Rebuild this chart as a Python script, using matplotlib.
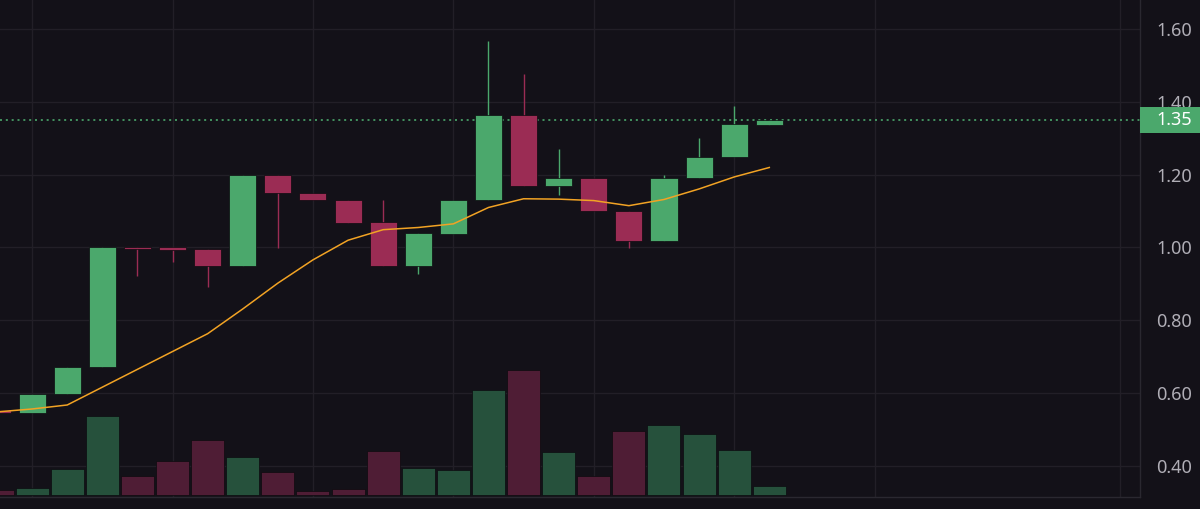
import matplotlib.pyplot as plt
from matplotlib.patches import Rectangle
from matplotlib.transforms import blended_transform_factory

plt.rcParams['font.family'] = ['Noto Sans', 'DejaVu Sans']

# candles, index 0 is the cut-off one at the left edge
opens  = [0.552, 0.544, 0.597, 0.672, 1.001, 1.000, 0.995, 0.948, 1.200, 1.151, 1.130, 1.070,
          0.948, 1.038, 1.130, 1.365, 1.169, 1.190, 1.100, 1.017, 1.190, 1.248, 1.338]
highs  = [0.552, 0.598, 0.672, 1.000, 1.001, 1.000, 0.995, 1.200, 1.200, 1.151, 1.130, 1.131,
          1.039, 1.131, 1.568, 1.478, 1.270, 1.190, 1.100, 1.200, 1.300, 1.390, 1.350]
lows   = [0.544, 0.544, 0.597, 0.672, 0.921, 0.960, 0.891, 0.948, 0.998, 1.130, 1.068, 0.948,
          0.928, 1.038, 1.130, 1.169, 1.143, 1.099, 0.999, 1.017, 1.190, 1.248, 1.338]
closes = [0.544, 0.598, 0.672, 1.000, 0.997, 0.994, 0.948, 1.200, 1.150, 1.130, 1.068, 0.948,
          1.039, 1.131, 1.365, 1.169, 1.190, 1.099, 1.018, 1.190, 1.248, 1.339, 1.350]
volume = [5, 7, 26, 79, 19, 34, 55, 38, 23, 4, 6, 44, 27, 25, 105, 125, 43, 19, 64, 70, 61, 45, 9]
ma     = [0.548, 0.556, 0.567, 0.616, 0.665, 0.714, 0.763, 0.831, 0.902, 0.966, 1.020, 1.049,
          1.055, 1.065, 1.110, 1.134, 1.133, 1.129, 1.115, 1.132, 1.161, 1.194, 1.220]
last_price = 1.35
price_ticks = [0.40, 0.60, 0.80, 1.00, 1.20, 1.40, 1.60]
time_grid = [1, 5, 9, 13, 17, 21, 25, 32]

bg = '#131118'
grid_c = '#221f27'
up_c, down_c = '#4ba86c', '#9b2c54'
vol_up, vol_down = '#26513c', '#4f1d35'
ma_c = '#f2a324'

fig = plt.figure(figsize=(12, 5.09), dpi=100, facecolor=bg)
ax = fig.add_axes([0, 12 / 509, 1140 / 1200, 497 / 509])
ax.set_facecolor(bg)
axv = ax.twinx()
# volume pane sits above the grid
axv.patch.set_visible(False)

xs = list(range(len(opens)))
up = [c >= o for o, c in zip(opens, closes)]

axv.bar(xs, volume, width=0.94, color=[vol_up if u else vol_down for u in up],
        edgecolor='#0c0b0f', linewidth=0.5)
axv.set_ylim(-2, 495)
axv.set_yticks([])
axv.tick_params(axis='x', length=0)
for s in axv.spines.values():
    s.set_visible(False)

# candles
cols = [up_c if u else down_c for u in up]
ax.vlines(xs, lows, highs, colors=cols, linewidth=1.0, zorder=3)
bottoms = [min(o, c) for o, c in zip(opens, closes)]
heights = [max(abs(c - o), 0.004) for o, c in zip(opens, closes)]
ax.bar(xs, heights, bottom=bottoms, width=0.77, color=cols,
       edgecolor='#0c0b0f', linewidth=0.5, zorder=4)

ax.plot(xs, ma, color=ma_c, linewidth=1.1, zorder=5)
ax.axhline(last_price, color=up_c, linewidth=1.2, linestyle=(0, (1.2, 2.3)), zorder=2)

ax.set_xlim(0.085, 32.56)
ax.set_ylim(0.314, 1.6805)
ax.set_xticks(time_grid)
ax.set_xticklabels([])
ax.set_yticks(price_ticks)
ax.set_yticklabels([f'{t:.2f}' for t in price_ticks])
ax.yaxis.tick_right()
ax.tick_params(axis='y', length=0, pad=11.5, labelsize=13, labelcolor='#b0aeb6')
ax.tick_params(axis='x', length=0)
ax.grid(True, color=grid_c, linewidth=1.0)
for side in ['left', 'top']:
    ax.spines[side].set_visible(False)
for side in ['right', 'bottom']:
    ax.spines[side].set_color('#2a2830')
    ax.spines[side].set_linewidth(1.0)

# last price tag on the scale
tr = blended_transform_factory(ax.transAxes, ax.transData)
axv.add_patch(Rectangle((1.0, last_price - 0.036), 0.06, 0.072, transform=tr,
                        facecolor=up_c, edgecolor='none', clip_on=False, zorder=10))
axv.text(1.0142, last_price, f'{last_price:.2f}', transform=tr, color='white',
         fontsize=13, va='center', ha='left', zorder=11, clip_on=False)

fig.savefig('out.png', dpi=100, facecolor=bg)
